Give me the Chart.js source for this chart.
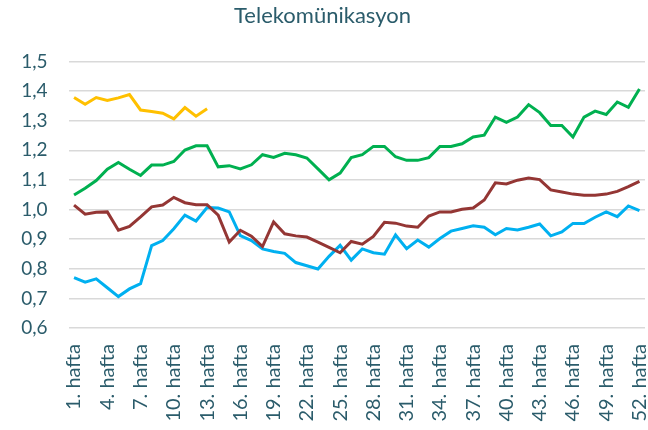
<!DOCTYPE html>
<html>
<head>
<meta charset="utf-8">
<script src="https://cdn.jsdelivr.net/npm/chart.js@4/dist/chart.umd.min.js"></script>
<style>
  html, body { margin: 0; padding: 0; background: #fff; }
  #wrap { width: 648px; height: 430px; position: relative; }
</style>
</head>
<body>
<div id="wrap"><canvas id="chart"></canvas></div>
<script>
// weeks on the x axis (every third one is labelled)
const weeks = [
  '1. hafta', '2. hafta', '3. hafta', '4. hafta', '5. hafta', '6. hafta', '7. hafta', '8. hafta',
  '9. hafta', '10. hafta', '11. hafta', '12. hafta', '13. hafta', '14. hafta', '15. hafta', '16. hafta',
  '17. hafta', '18. hafta', '19. hafta', '20. hafta', '21. hafta', '22. hafta', '23. hafta', '24. hafta',
  '25. hafta', '26. hafta', '27. hafta', '28. hafta', '29. hafta', '30. hafta', '31. hafta', '32. hafta',
  '33. hafta', '34. hafta', '35. hafta', '36. hafta', '37. hafta', '38. hafta', '39. hafta', '40. hafta',
  '41. hafta', '42. hafta', '43. hafta', '44. hafta', '45. hafta', '46. hafta', '47. hafta', '48. hafta',
  '49. hafta', '50. hafta', '51. hafta', '52. hafta'
];

// yellow - only the first 13 weeks
const yellowSeries = [1.378, 1.355, 1.378, 1.368, 1.377, 1.388, 1.336, 1.331, 1.325, 1.306, 1.344, 1.315, 1.340];

const greenSeries = [
  1.049, 1.072, 1.098, 1.136, 1.159, 1.136, 1.115, 1.150, 1.150, 1.162, 1.201, 1.215, 1.215,
  1.144, 1.148, 1.137, 1.151, 1.185, 1.176, 1.190, 1.185, 1.174, 1.137, 1.100, 1.123, 1.175,
  1.185, 1.213, 1.213, 1.178, 1.166, 1.166, 1.175, 1.213, 1.213, 1.222, 1.245, 1.251, 1.312,
  1.294, 1.312, 1.354, 1.327, 1.284, 1.284, 1.245, 1.312, 1.332, 1.321, 1.363, 1.345, 1.407
];

const redSeries = [
  1.015, 0.984, 0.991, 0.992, 0.930, 0.943, 0.975, 1.009, 1.015, 1.041, 1.023, 1.016, 1.016,
  0.981, 0.890, 0.930, 0.910, 0.875, 0.958, 0.918, 0.911, 0.907, 0.890, 0.872, 0.854, 0.892,
  0.883, 0.909, 0.957, 0.954, 0.944, 0.940, 0.978, 0.992, 0.992, 1.001, 1.005, 1.032, 1.090,
  1.086, 1.099, 1.106, 1.101, 1.066, 1.059, 1.052, 1.048, 1.048, 1.052, 1.061, 1.077, 1.095
];

const blueSeries = [
  0.770, 0.755, 0.766, 0.736, 0.706, 0.732, 0.750, 0.878, 0.895, 0.935, 0.981, 0.961, 1.007,
  1.005, 0.992, 0.912, 0.895, 0.867, 0.858, 0.852, 0.821, 0.810, 0.799, 0.842, 0.879, 0.829,
  0.867, 0.854, 0.849, 0.914, 0.868, 0.897, 0.873, 0.902, 0.927, 0.936, 0.945, 0.940, 0.915,
  0.936, 0.931, 0.940, 0.951, 0.911, 0.924, 0.953, 0.953, 0.974, 0.992, 0.976, 1.012, 0.996
];

const textColor = '#2B5C6B';
const fontFamily = 'Lato, "Open Sans", sans-serif';

function line(data, color) {
  return {
    data: data,
    borderColor: color,
    backgroundColor: color,
    borderWidth: 3,
    pointRadius: 0,
    tension: 0,
    fill: false
  };
}

new Chart(document.getElementById('chart'), {
  type: 'line',
  data: {
    labels: weeks,
    datasets: [
      line(yellowSeries, '#FFC000'),
      line(greenSeries, '#00B050'),
      line(redSeries, '#943634'),
      line(blueSeries, '#00B0F0')
    ]
  },
  options: {
    responsive: true,
    maintainAspectRatio: false,
    animation: false,
    layout: { padding: { left: 0, right: 3, top: 0, bottom: 0 } },
    plugins: {
      legend: { display: false },
      tooltip: { enabled: false },
      title: {
        display: true,
        text: 'Telekomünikasyon',
        color: textColor,
        font: { family: fontFamily, size: 22, weight: 'normal' },
        padding: { top: 3, bottom: 32 }
      }
    },
    scales: {
      x: {
        offset: true,
        grid: { display: false },
        border: { display: false },
        ticks: {
          autoSkip: false,
          minRotation: 90,
          maxRotation: 90,
          padding: 8,
          color: textColor,
          font: { family: fontFamily, size: 20 },
          callback: function (val, i) { return i % 3 === 0 ? weeks[i] : ''; }
        },
        afterFit: function (s) {
          s.height = 102;
          s.paddingLeft = 0;
          s.paddingRight = 0;
        }
      },
      y: {
        min: 0.6,
        max: 1.5,
        border: { display: false },
        grid: { color: '#D9D9D9', lineWidth: 1.5, drawTicks: false },
        ticks: {
          stepSize: 0.1,
          padding: 21,
          color: textColor,
          font: { family: fontFamily, size: 19 },
          callback: function (v) { return v.toFixed(1).replace('.', ','); }
        },
        afterFit: function (s) { s.width = 68.5; }
      }
    }
  }
});
</script>
</body>
</html>
